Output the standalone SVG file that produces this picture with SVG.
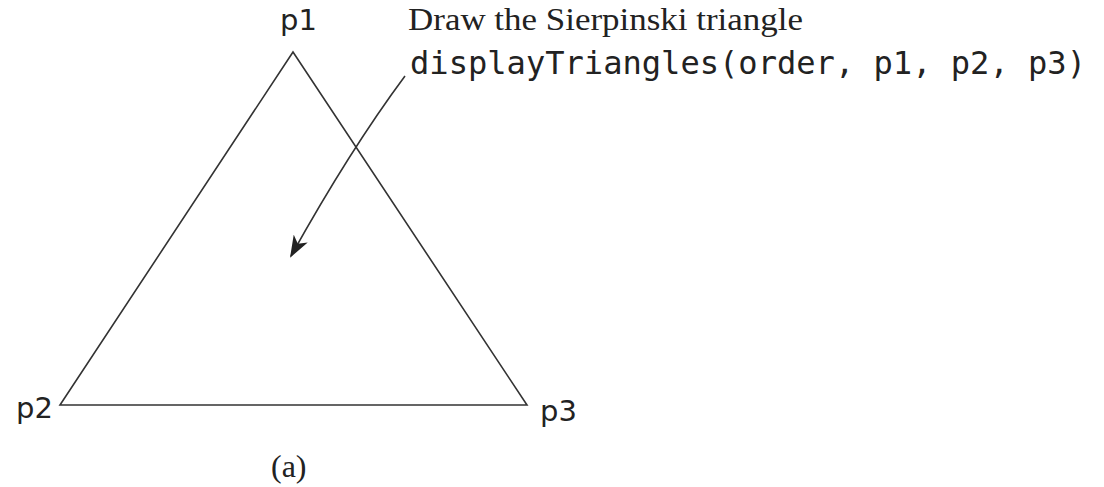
<svg xmlns="http://www.w3.org/2000/svg" width="1104" height="487" viewBox="0 0 1104 487">
<style>
.lbl{font-family:"DejaVu Sans","Liberation Sans",sans-serif;font-size:29px;fill:#222}
.serif{font-family:"Liberation Serif","Times New Roman",serif;font-size:32px;fill:#222}
.mono{font-family:"DejaVu Sans Mono","Liberation Mono",monospace;font-size:32px;fill:#222}
.edge{fill:none;stroke:#333;stroke-width:1.6}
</style>
<defs>
<marker id="ah" viewBox="0 0 22 16" refX="20" refY="8" markerWidth="22" markerHeight="16" markerUnits="userSpaceOnUse" orient="auto">
<path d="M0,0 L22,8 L0,16 L6,8 Z" fill="#222"/>
</marker>
</defs>
<g id="triangle">
<polygon class="edge" points="293,52 60,405 527,405"/>
</g>
<g id="p1"><text class="lbl" x="280" y="30">p1</text></g>
<g id="p2"><text class="lbl" x="16" y="418">p2</text></g>
<g id="p3"><text class="lbl" x="540" y="421">p3</text></g>
<g id="caption"><text class="serif" x="271" y="477" font-size="35">(a)</text></g>
<g id="note">
<text class="serif" x="408" y="30" textLength="395" lengthAdjust="spacingAndGlyphs">Draw the Sierpinski triangle</text>
<text class="mono" x="410" y="74" textLength="676" lengthAdjust="spacingAndGlyphs">displayTriangles(order, p1, p2, p3)</text>
</g>
<g id="connectors">
<path class="edge" d="M405,76 Q350,150 291,256" marker-end="url(#ah)"/>
</g>
</svg>
